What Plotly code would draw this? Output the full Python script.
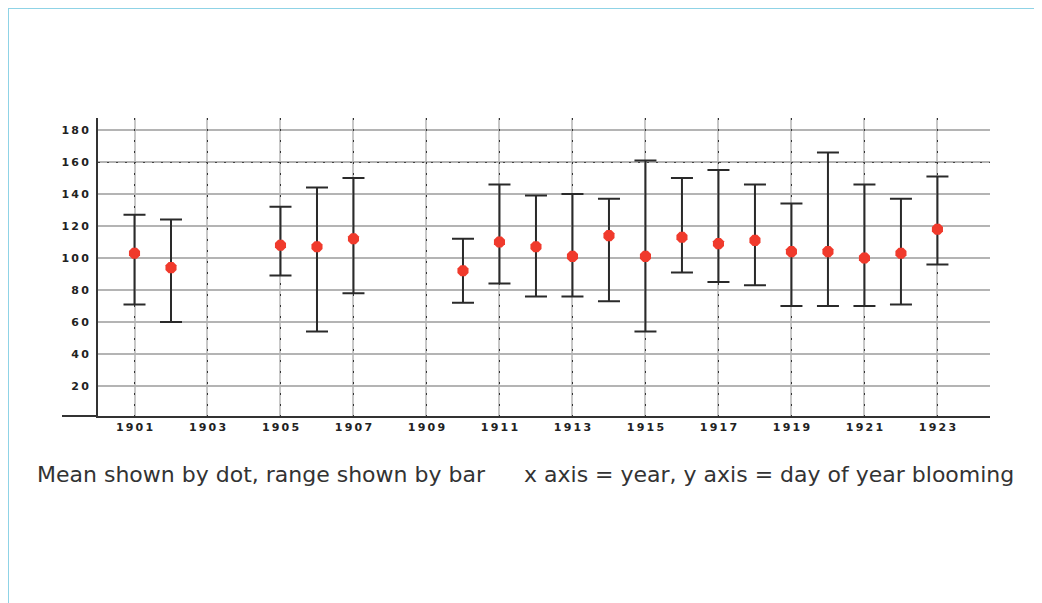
import plotly.graph_objects as go

years = [1901, 1902, 1905, 1906, 1907, 1910, 1911, 1912, 1913, 1914, 1915,
         1916, 1917, 1918, 1919, 1920, 1921, 1922, 1923]
mean_day = [103, 94, 108, 107, 112, 92, 110, 107, 101, 114, 101,
            113, 109, 111, 104, 104, 100, 103, 118]
min_day = [71, 60, 89, 54, 78, 72, 84, 76, 76, 73, 54,
           91, 85, 83, 70, 70, 70, 71, 96]
max_day = [127, 124, 132, 144, 150, 112, 146, 139, 140, 137, 161,
           150, 155, 146, 134, 166, 146, 137, 151]
x_ticks = list(range(1901, 1924, 2))
y_ticks = list(range(20, 181, 20))
caption_left = "Mean shown by dot, range shown by bar"
caption_right = "x axis = year, y axis = day of year blooming"

err_plus = [mx - m for mx, m in zip(max_day, mean_day)]
err_minus = [m - mn for m, mn in zip(mean_day, min_day)]

# page body has an 8px margin, so the figure is placed 8px in from the corner
OFF = 8
W, H = 1042 - OFF, 603 - OFF
L, R, T, B = 98 - OFF, 990 - OFF, 118 - OFF, 416 - OFF

def px(xp):
    return (xp - OFF - L) / (R - L)

def py(yp):
    return (B - (yp - OFF)) / (B - T)

fig = go.Figure()
fig.add_trace(go.Scatter(
    x=years, y=mean_day, mode="markers",
    marker=dict(symbol="octagon", size=12, color="#f03a2c", line=dict(width=0)),
    error_y=dict(type="data", symmetric=False, array=err_plus, arrayminus=err_minus,
                 color="#2a2a2a", thickness=2, width=11),
    showlegend=False, hoverinfo="skip",
))
# invisible trace that carries the dotted overlay axes
fig.add_trace(go.Scatter(x=[years[0]], y=[mean_day[0]], xaxis="x2", yaxis="y2",
                         mode="markers", marker=dict(opacity=0),
                         showlegend=False, hoverinfo="skip"))

tickfont = dict(family="DejaVu Sans", size=11, color="#222", weight="bold")
xr = [1900.0, 1924.44]
yr = [1.25, 187.5]
fig.update_layout(
    width=W, height=H,
    margin=dict(l=L, r=W - R, t=T, b=H - B, pad=0),
    paper_bgcolor="white", plot_bgcolor="white",
    xaxis=dict(range=xr, tickmode="array", tickvals=x_ticks,
               ticktext=["\u2009".join(str(v)) for v in x_ticks],
               showgrid=True, gridcolor="#c8c8c8", gridwidth=2,
               zeroline=False, showline=True, linecolor="#333", linewidth=2,
               ticks="", tickfont=tickfont, ticklabelstandoff=0),
    xaxis2=dict(overlaying="x", matches="x", range=xr, tickmode="array",
                tickvals=x_ticks, showticklabels=False, showgrid=True,
                gridcolor="#333", gridwidth=1, griddash="2px,9px", zeroline=False,
                showline=False, side="bottom"),
    yaxis=dict(range=yr, tickmode="array", tickvals=y_ticks,
               ticktext=["\u2009".join(str(v)) for v in y_ticks],
               showgrid=True, gridcolor="#b4b4b4", gridwidth=2,
               zeroline=False, showline=True, linecolor="#333", linewidth=2,
               ticks="", tickfont=tickfont, ticklabelstandoff=5),
    yaxis2=dict(overlaying="y", matches="y", range=yr, tickmode="array",
                tickvals=[160], showticklabels=False, showgrid=True,
                gridcolor="#444", gridwidth=1, griddash="2px,7px", zeroline=False,
                showline=False),
)
# extension of x axis line to the left of the y axis
fig.add_shape(type="line", xref="paper", yref="paper", x0=px(62), x1=0,
              y0=0, y1=0, line=dict(color="#333", width=2))
# light blue frame
fig.add_shape(type="line", xref="paper", yref="paper", x0=px(8), x1=px(1050),
              y0=py(8), y1=py(8), line=dict(color="#8fd3e6", width=2))
fig.add_shape(type="line", xref="paper", yref="paper", x0=px(8), x1=px(8),
              y0=py(8), y1=py(610), line=dict(color="#8fd3e6", width=2))

capfont = dict(family="DejaVu Sans", size=22, color="#333")
fig.add_annotation(text=caption_left, xref="paper", yref="paper",
                   x=px(35), y=py(474), xanchor="left",
                   yanchor="middle", showarrow=False, font=capfont)
fig.add_annotation(text=caption_right, xref="paper", yref="paper",
                   x=px(1016), y=py(474), xanchor="right",
                   yanchor="middle", showarrow=False, font=capfont)

fig.write_html("out.html")
